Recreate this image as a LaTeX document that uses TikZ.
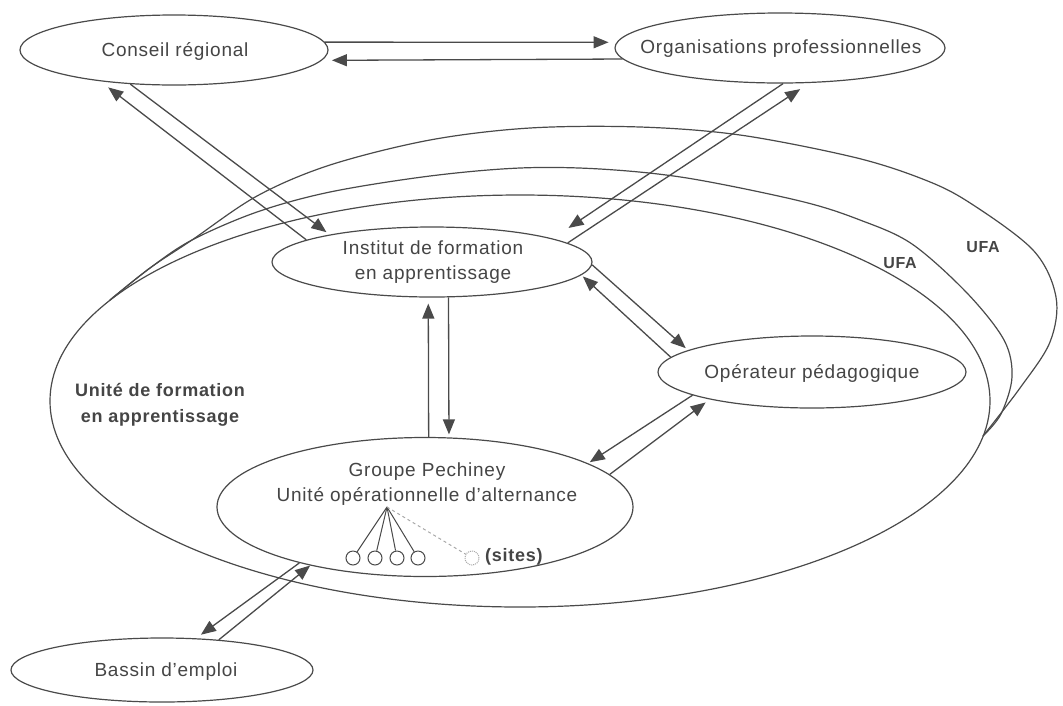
\documentclass[tikz,border=0pt]{standalone}
\usepackage{fontspec}
\setmainfont{Liberation Sans}[LetterSpace=4]
\usetikzlibrary{shapes.geometric,arrows.meta}
\definecolor{ink}{HTML}{4A4A4A}
\definecolor{txt}{HTML}{454545}
\definecolor{faint}{HTML}{A8A8A8}
\begin{document}
\begin{tikzpicture}[x=1pt,y=-1pt,
  ell/.style={ellipse, draw=ink, line width=1.2pt, inner sep=0pt},
  lab/.style={text=txt, font=\fontsize{19}{25}\selectfont, align=center, inner sep=0pt},
  blab/.style={text=txt, font=\fontsize{18}{26}\selectfont\bfseries, align=center, inner sep=0pt},
  ufalab/.style={text=txt, font=\fontsize{16}{20}\selectfont\bfseries, inner sep=0pt},
  arr/.style={draw=ink, line width=1.3pt, -{Triangle[length=15pt,width=12pt]}},
  curve/.style={draw=ink, line width=1.2pt},
  site/.style={circle, draw=ink, line width=1pt, minimum size=14pt, inner sep=0pt},
  tree/.style={draw=ink, line width=1pt},
]
\fill[white] (0,0) rectangle (1063,705);
\useasboundingbox (0,0) rectangle (1063,705);

% background UFA curves
\draw[curve] plot[smooth, tension=0.55] coordinates {(110,300) (150,268) (192,240) (257,196) (330,165) (430,140) (530,128) (640,127) (740,135) (853,157) (920,178) (967,201) (1033,250) (1056,297) (1050,342) (1020,388) (983,436)};
\draw[curve] plot[smooth, tension=0.55] coordinates {(110,300) (150,268) (192,240) (257,212) (330,192) (430,176) (520,168) (600,169) (687,178) (800,201) (860,220) (912,244) (967,293) (1004,340) (1012,377) (1001,414) (983,436)};

% main UFA
\node[ell, minimum width=940pt, minimum height=412pt] (ufa) at (520,401) {};

% ellipses
\node[ell, minimum width=308pt, minimum height=70pt] (cr) at (174,50) {};
\node[ell, minimum width=330pt, minimum height=70pt] (org) at (780,48) {};
\node[ell, minimum width=320pt, minimum height=70pt] (inst) at (432,262) {};
\node[ell, minimum width=308pt, minimum height=72pt] (op) at (812,372) {};
\node[ell, minimum width=416pt, minimum height=139pt] (grp) at (425,507) {};
\node[ell, minimum width=302pt, minimum height=64pt] (bas) at (162,670) {};

% texts
\node[lab] (cr-t) at (175,51) {Conseil régional};
\node[lab] (org-t) at (781,49) {Organisations professionnelles};
\node[lab] (inst-t) at (433,262) {Institut de formation\\en apprentissage};
\node[lab] (op-t) at (812,373) {Opérateur pédagogique};
\node[lab] (grp-t) at (427,484) {Groupe Pechiney\\Unité opérationnelle d'alternance};
\node[lab] (bas-t) at (166,672) {Bassin d'emploi};
\node[blab] (ufa-t) at (160,405) {Unité de formation\\en apprentissage};
\node[ufalab] (ufa1-t) at (900,263) {UFA};
\node[ufalab] (ufa2-t) at (983,247) {UFA};

% arrows
\draw[arr, shorten >=8pt] (cr.3) -- (org.178);
\draw[arr, shorten >=10pt] (org.184) -- (cr.-4);
\draw[arr, shorten >=10pt] (inst.170) -- (cr.203);
\draw[arr, shorten >=4pt] (cr.218) -- (inst.165);
\draw[arr, shorten >=19pt] (org.-85) -- (inst.11);
\draw[arr, shorten >=11pt] (inst.8) -- (org.-50);
\draw[arr, shorten >=3pt] (inst.-1) -- (op.170);
\draw[arr, shorten >=2pt] (op.174) -- (inst.-5);
\draw[arr, shorten >=6pt] (grp.87.5) -- (inst.-96.5);
\draw[arr, shorten >=3pt] (inst.-65.4) -- (grp.71.6);
\draw[arr, shorten >=2pt] (op.-169) -- (grp.15);
\draw[arr, shorten >=5pt] (grp.10.5) -- (op.-165);
\draw[arr, shorten >=6pt] (grp.-156.4) -- (bas.43);
\draw[arr] (bas.28.6) -- (grp.-153.6);

% sites
\coordinate (apex) at (387,507);
\node[site] (s1) at (353,558) {};
\node[site] (s2) at (375,558) {};
\node[site] (s3) at (397,558) {};
\node[site] (s4) at (418,558) {};
\node[site, draw=faint, densely dotted] (s5) at (472,558) {};
\draw[tree] (apex) -- (s1);
\draw[tree] (apex) -- (s2);
\draw[tree] (apex) -- (s3);
\draw[tree] (apex) -- (s4);
\draw[faint, line width=1pt, dashed] (apex) -- (s5);
\node[text=txt, font=\fontsize{18}{22}\selectfont\bfseries, anchor=west, inner sep=0pt] (sites-t) at (485,557) {(sites)};
\end{tikzpicture}
\end{document}
